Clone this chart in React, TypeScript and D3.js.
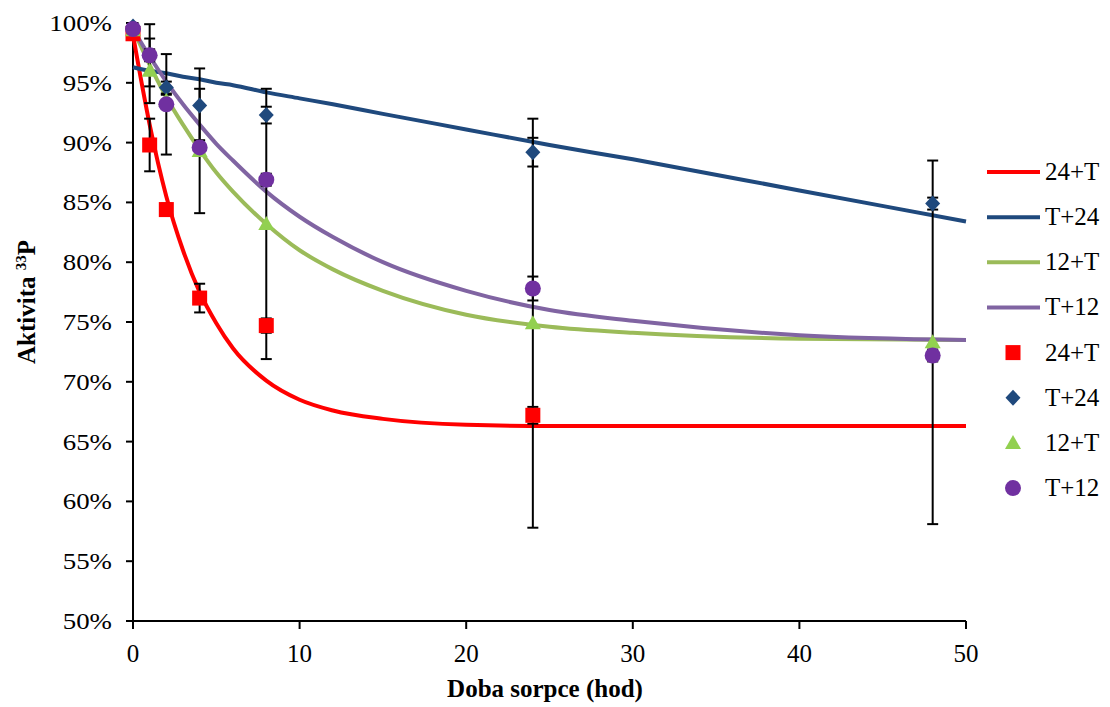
import React from 'react';
import * as d3 from 'd3';

// measured points (hours, % activity)
const hours = [0, 1, 2, 4, 8, 24, 48];

const pts24T = [99.1, 89.8, 84.4, 77.0, 74.7, 67.2, null];
const err24T = [0.4, 2.2, 0.5, 1.2, 0.6, 0.7, null];

const ptsT24 = [99.7, 97.3, 94.6, 93.1, 92.3, 89.2, 84.9];
const errT24 = [0.3, 0.5, 0.5, 3.1, 0.7, 1.2, 0.5];

const pts12T = [99.4, 96.0, 93.5, 89.3, 83.2, 74.9, 73.3];
const err12T = [0.3, 2.7, 0.5, 5.2, 11.3, 17.1, 15.2];

const ptsT12 = [99.5, 97.3, 93.2, 89.6, 86.9, 77.8, 72.2];
const errT12 = [0.3, 2.6, 4.2, 0.6, 0.5, 1.0, 0.5];

// fitted curves
const fitHours = [0, 1, 2, 3, 4, 5, 6, 8, 10, 12, 15, 20, 25, 30, 40, 50];
const fit24T = [99.0, 91.5, 85.5, 81.0, 77.5, 74.9, 72.8, 70.1, 68.5, 67.6, 66.9, 66.4, 66.3, 66.3, 66.3, 66.3];
const fitT24 = [96.3, 96.0, 95.8, 95.5, 95.3, 95.0, 94.8, 94.2, 93.7, 93.2, 92.4, 91.1, 89.8, 88.6, 86.0, 83.4];
const fit12T = [99.5, 96.5, 93.8, 91.5, 89.4, 87.5, 85.9, 83.2, 81.0, 79.4, 77.6, 75.6, 74.6, 74.1, 73.6, 73.5];
const fitT12 = [99.5, 97.2, 95.1, 93.2, 91.5, 89.9, 88.5, 85.9, 83.8, 82.1, 80.0, 77.6, 76.0, 75.1, 73.9, 73.5];

const yTicks = [50, 55, 60, 65, 70, 75, 80, 85, 90, 95, 100];
const xTicks = [0, 10, 20, 30, 40, 50];

const lineSeries = [
  { name: '24+T', values: fit24T, color: '#FF0000' },
  { name: 'T+24', values: fitT24, color: '#1F497D' },
  { name: '12+T', values: fit12T, color: '#9BBB59' },
  { name: 'T+12', values: fitT12, color: '#8064A2' },
];

const pointSeries = [
  { name: '24+T', values: pts24T, err: err24T, color: '#FF0000', shape: 'square' },
  { name: 'T+24', values: ptsT24, err: errT24, color: '#1F497D', shape: 'diamond' },
  { name: '12+T', values: pts12T, err: err12T, color: '#92D050', shape: 'triangle' },
  { name: 'T+12', values: ptsT12, err: errT12, color: '#7030A0', shape: 'circle' },
];

const FONT = "'Liberation Serif', 'Times New Roman', Times, serif";

function Marker({ shape, x, y, color }) {
  if (shape === 'square') {
    return <rect x={x - 7.5} y={y - 7.5} width={15} height={15} fill={color} />;
  }
  if (shape === 'diamond') {
    return <path d={`M${x},${y - 8}L${x + 7.5},${y}L${x},${y + 8}L${x - 7.5},${y}Z`} fill={color} />;
  }
  if (shape === 'triangle') {
    return <path d={`M${x},${y - 8}L${x + 8},${y + 6}L${x - 8},${y + 6}Z`} fill={color} />;
  }
  return <circle cx={x} cy={y} r={8} fill={color} />;
}

export default function App() {
  const width = 1110;
  const height = 707;
  const left = 133, right = 966, top = 23, bottom = 621;

  const xScale = d3.scaleLinear().domain([0, 50]).range([left, right]);
  const yScale = d3.scaleLinear().domain([50, 100]).range([bottom, top]);

  const line = d3.line<number>()
    .x((d, i) => xScale(fitHours[i]))
    .y((d) => yScale(d))
    .curve(d3.curveMonotoneX);

  const legendStart = 172;
  const legendStep = 45.15;

  return (
    <svg width={width} height={height}
      style={{ position: 'absolute', left: 0, top: 0, background: '#fff', fontFamily: FONT }}>
      <rect x={0} y={0} width={width} height={height} fill="#fff" />

      {/* axes */}
      <line x1={left} y1={top} x2={left} y2={bottom} stroke="#000" strokeWidth={2} />
      <line x1={left - 1} y1={bottom} x2={right} y2={bottom} stroke="#000" strokeWidth={2} />
      {yTicks.map((t) => (
        <g key={'y' + t}>
          <line x1={left - 7} x2={left} y1={yScale(t)} y2={yScale(t)} stroke="#000" strokeWidth={2} />
          <text transform={`translate(112,${yScale(t) + 8}) scale(1.12,1)`} textAnchor="end" fontSize={24}>{t + '%'}</text>
        </g>
      ))}
      {xTicks.map((t) => (
        <g key={'x' + t}>
          <line x1={xScale(t)} x2={xScale(t)} y1={bottom} y2={bottom + 8} stroke="#000" strokeWidth={2} />
          <text x={xScale(t)} y={662} textAnchor="middle" fontSize={25}>{t}</text>
        </g>
      ))}

      <text x={545} y={697} textAnchor="middle" fontSize={25} fontWeight="bold">Doba sorpce (hod)</text>
      <text transform="translate(35,302) rotate(-90)" textAnchor="middle" fontSize={25} fontWeight="bold">
        Aktivita <tspan fontSize={15} dy={-9}>33</tspan><tspan dy={9}>P</tspan>
      </text>

      {/* fitted curves */}
      {lineSeries.map((s) => (
        <path key={'l' + s.name} d={line(s.values) || ''} fill="none" stroke={s.color} strokeWidth={4} />
      ))}

      {/* error bars */}
      {pointSeries.map((s) => (
        <g key={'e' + s.name}>
          {s.values.map((v, i) => {
            if (v == null || s.err[i] == null) return null;
            const x = xScale(hours[i]);
            const y1 = yScale(v + s.err[i]);
            const y2 = yScale(v - s.err[i]);
            return (
              <g key={i} stroke="#000" strokeWidth={2}>
                <line x1={x} x2={x} y1={y1} y2={y2} />
                <line x1={x - 5.5} x2={x + 5.5} y1={y1} y2={y1} />
                <line x1={x - 5.5} x2={x + 5.5} y1={y2} y2={y2} />
              </g>
            );
          })}
        </g>
      ))}

      {/* markers */}
      {pointSeries.map((s) => (
        <g key={'m' + s.name}>
          {s.values.map((v, i) => v == null ? null : (
            <Marker key={i} shape={s.shape} x={xScale(hours[i])} y={yScale(v)} color={s.color} />
          ))}
        </g>
      ))}

      {/* legend */}
      {lineSeries.map((s, i) => {
        const y = legendStart + i * legendStep;
        return (
          <g key={'lg' + s.name}>
            <line x1={987} x2={1040} y1={y} y2={y} stroke={s.color} strokeWidth={4} />
            <text x={1045} y={y + 8} fontSize={25}>{s.name}</text>
          </g>
        );
      })}
      {pointSeries.map((s, i) => {
        const y = legendStart + (i + 4) * legendStep;
        return (
          <g key={'lp' + s.name}>
            <Marker shape={s.shape} x={1013} y={y} color={s.color} />
            <text x={1045} y={y + 8} fontSize={25}>{s.name}</text>
          </g>
        );
      })}
    </svg>
  );
}
